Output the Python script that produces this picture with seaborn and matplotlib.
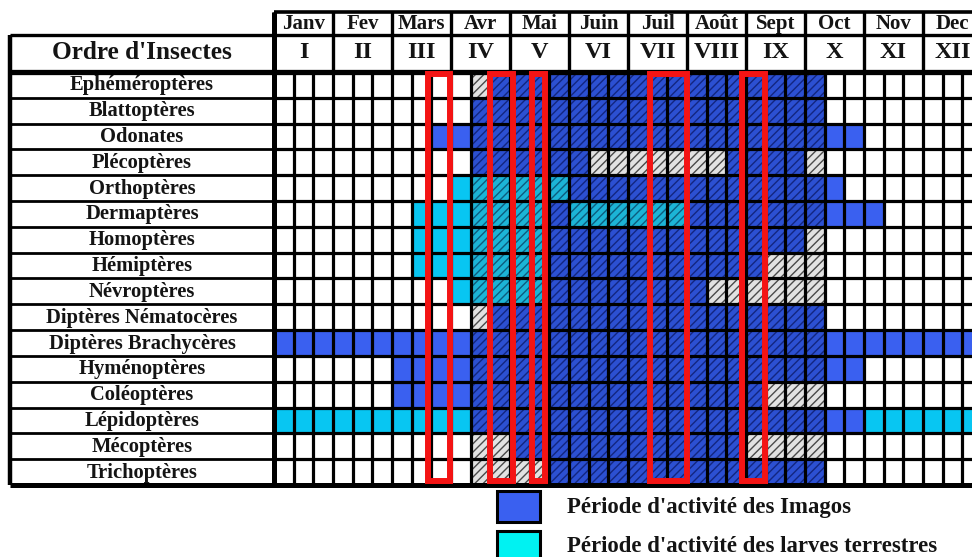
import numpy as np
import pandas as pd
import matplotlib
matplotlib.use("Agg")
import matplotlib.pyplot as plt
from matplotlib.colors import ListedColormap
from matplotlib.patches import Rectangle
import seaborn as sns

# Insect orders (table rows, top to bottom)
orders = ["Ephéméroptères", "Blattoptères", "Odonates", "Plécoptères", "Orthoptères",
          "Dermaptères", "Homoptères", "Hémiptères", "Névroptères", "Diptères Nématocères",
          "Diptères Brachycères", "Hyménoptères", "Coléoptères", "Lépidoptères",
          "Mécoptères", "Trichoptères"]

months = ["Janv", "Fev", "Mars", "Avr", "Mai", "Juin", "Juil", "Août", "Sept", "Oct", "Nov", "Dec"]
month_numerals = ["I", "II", "III", "IV", "V", "VI", "VII", "VIII", "IX", "X", "XI", "XII"]
decades_per_month = 3

# cell states: W empty, B imagos, C larves terrestres, BH / GH / CH hatched variants
states = ["W", "B", "C", "BH", "GH", "CH"]

# activity of each order, as runs of (state, number of decades) from Janv to Dec
activity_runs = [
    [("W", 10), ("GH", 1), ("BH", 17), ("W", 8)],
    [("W", 10), ("BH", 18), ("W", 8)],
    [("W", 8), ("B", 2), ("BH", 18), ("B", 2), ("W", 6)],
    [("W", 10), ("BH", 6), ("GH", 7), ("BH", 4), ("GH", 1), ("W", 8)],
    [("W", 9), ("C", 1), ("CH", 5), ("BH", 13), ("B", 1), ("W", 7)],
    [("W", 7), ("C", 3), ("CH", 4), ("BH", 1), ("CH", 6), ("BH", 7), ("B", 3), ("W", 5)],
    [("W", 7), ("C", 3), ("CH", 4), ("BH", 13), ("GH", 1), ("W", 8)],
    [("W", 7), ("C", 3), ("CH", 4), ("BH", 11), ("GH", 3), ("W", 8)],
    [("W", 9), ("C", 1), ("CH", 4), ("BH", 8), ("GH", 6), ("W", 8)],
    [("W", 10), ("GH", 1), ("BH", 17), ("W", 8)],
    [("B", 10), ("BH", 18), ("B", 8)],
    [("W", 6), ("B", 4), ("BH", 18), ("B", 2), ("W", 6)],
    [("W", 6), ("B", 4), ("BH", 15), ("GH", 3), ("W", 8)],
    [("C", 10), ("BH", 18), ("B", 2), ("C", 6)],
    [("W", 10), ("GH", 2), ("BH", 12), ("GH", 4), ("W", 8)],
    [("W", 10), ("GH", 4), ("BH", 14), ("W", 8)],
]

# decade spans framed in red (start, end, in decade units)
red_frames = [(7.85, 8.95), (10.97, 12.14), (13.14, 13.8), (19.12, 20.98), (23.78, 24.99)]

legend_labels = ["Période d'activité des Imagos", "Période d'activité des larves terrestres"]

fill_colors = {"W": "#FFFFFF", "B": "#3A60F0", "C": "#08C6F2",
               "BH": "#2C50D2", "GH": "#E2E2E2", "CH": "#1CB4D6"}
hatch_colors = {"BH": "#132680", "GH": "#4A4A4A", "CH": "#0D5C7E"}


# Function to build the decade grid from the runs
def build_grid():
    code = {s: i for i, s in enumerate(states)}
    rows = [[code[s] for s, n in runs for _ in range(n)] for runs in activity_runs]
    n_cols = len(months) * decades_per_month
    return pd.DataFrame(np.array(rows), index=orders, columns=range(n_cols))


def draw_table(fig, grid):
    n_rows, n_cols = grid.shape
    # pixel anchors of the table (cell 0,0 top-left), cell size in px
    x0_px, y0_px, cw, ch = 274, 72, 19.667, 25.81
    xlim = (-13.9, n_cols)
    ylim = (16.2, -2.6)
    W, H = 972, 557
    left = (x0_px + cw * xlim[0]) / W
    right = (x0_px + cw * xlim[1]) / W
    top = 1 - (y0_px + ch * ylim[1]) / H
    bottom = 1 - (y0_px + ch * ylim[0]) / H
    ax = fig.add_axes([left, bottom, right - left, top - bottom])

    cmap = ListedColormap([fill_colors[s] for s in states])
    sns.heatmap(grid, cmap=cmap, vmin=-0.5, vmax=len(states) - 0.5, cbar=False,
                linewidths=0, xticklabels=False, yticklabels=False, ax=ax)

    # hatched cells
    for r in range(n_rows):
        for c in range(n_cols):
            s = states[grid.iat[r, c]]
            if s in hatch_colors:
                ax.add_patch(Rectangle((c, r), 1, 1, fill=False, hatch="////",
                                       edgecolor=hatch_colors[s], lw=0, zorder=2))

    lab_x = -13.42
    k = dict(color="black", zorder=4)
    # cell grid
    ax.hlines(range(1, n_rows), 0, n_cols, lw=2.3, **k)
    ax.vlines(range(1, n_cols), 0, n_rows, lw=2.3, **k)
    # label column rows
    ax.hlines(range(1, n_rows), lab_x, 0, lw=2.0, **k)
    # header
    ax.hlines(-2.33, 0, n_cols, lw=2.6, **k)
    ax.hlines(-1.43, lab_x, n_cols, lw=2.4, **k)
    ax.vlines(range(0, n_cols + 1, decades_per_month), -2.33, 0, lw=2.4, **k)
    # thick outlines
    ax.hlines(0, lab_x, n_cols, lw=3.8, **k)
    ax.hlines(n_rows, lab_x, n_cols, lw=3.6, **k)
    ax.vlines(lab_x, -1.43, n_rows, lw=3.2, **k)
    ax.vlines(0, -2.33, n_rows, lw=3.6, **k)

    # texts
    tk = dict(ha="center", va="center", fontweight="bold", color="#141414")
    lab_c = lab_x / 2
    for r, name in enumerate(orders):
        ax.text(lab_c, r + 0.52, name, fontsize=14.8, **tk)
    ax.text(lab_c, -0.74, "Ordre d'Insectes", fontsize=18.2, **tk)
    for m, (name, num) in enumerate(zip(months, month_numerals)):
        xc = m * decades_per_month + decades_per_month / 2
        ax.text(xc, -1.86, name, fontsize=15, **tk)
        ax.text(xc, -0.74, num, fontsize=17.5, **tk)

    # red frames over the highlighted decades
    for a, b in red_frames:
        ax.add_patch(Rectangle((a, 0.08), b - a, 15.75, fill=False,
                               edgecolor="#F41414", lw=4.3, zorder=6))

    ax.set_xlim(*xlim)
    ax.set_ylim(*ylim)
    ax.axis("off")
    return ax


def draw_legend(fig):
    W, H = 972, 557
    boxes = [(497, 491, 43, 31, fill_colors["B"]), (497, 531, 43, 30, "#00F2F2")]
    text_y = [507, 546]
    for (x, y, w, h, col), ty, label in zip(boxes, text_y, legend_labels):
        fig.add_artist(Rectangle((x / W, 1 - (y + h) / H), w / W, h / H, facecolor=col,
                                 edgecolor="black", lw=2.2, transform=fig.transFigure))
        fig.text(567 / W, 1 - ty / H, label, ha="left", va="center",
                 fontsize=16.4, fontweight="bold", color="#141414")


def main():
    sns.set_style("white")
    plt.rcParams["font.family"] = ["Liberation Serif", "DejaVu Serif"]
    plt.rcParams["hatch.linewidth"] = 1.0

    grid = build_grid()
    fig = plt.figure(figsize=(9.72, 5.57), dpi=100)
    draw_table(fig, grid)
    draw_legend(fig)
    fig.savefig("out.png", dpi=100)


if __name__ == "__main__":
    main()
